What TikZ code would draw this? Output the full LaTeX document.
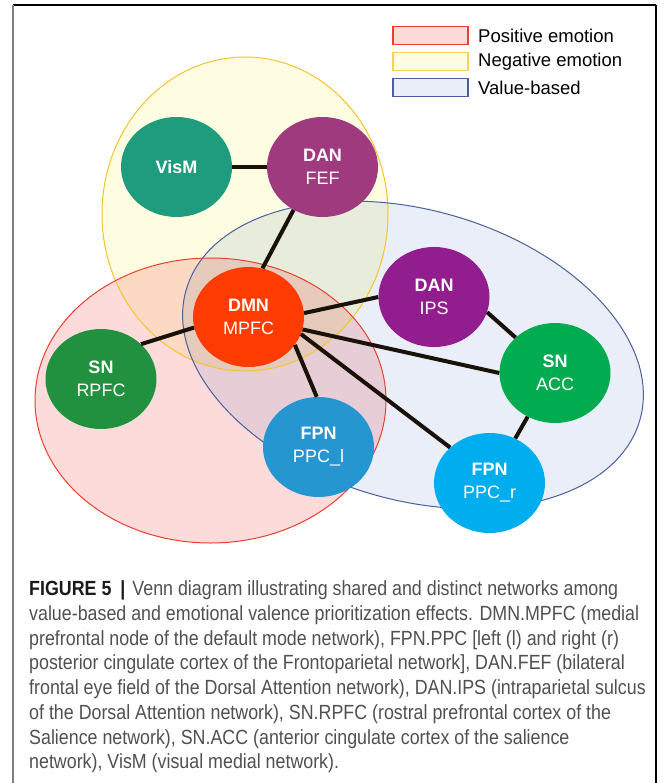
\documentclass[tikz,border=0pt]{standalone}
\usepackage{fontspec}
\setmainfont{Liberation Sans}
\newfontfamily\capfont[FakeStretch=0.87]{Liberation Sans}
\usetikzlibrary{shapes.geometric}
\definecolor{Rfill}{RGB}{253,219,219}
\definecolor{Yfill}{RGB}{254,253,226}
\definecolor{Bfill}{RGB}{233,238,248}
\definecolor{RYfill}{RGB}{252,217,194}
\definecolor{RBfill}{RGB}{231,205,213}
\definecolor{YBfill}{RGB}{232,237,219}
\definecolor{RYBfill}{RGB}{230,203,189}
\definecolor{Rline}{HTML}{EC3F2C}
\definecolor{Yline}{HTML}{F6C42C}
\definecolor{Bline}{HTML}{4A5F9E}
\definecolor{linkc}{HTML}{1A1209}
\definecolor{cVisM}{HTML}{1F9B7D}
\definecolor{cFEF}{HTML}{A03A7F}
\definecolor{cDMN}{HTML}{FE3B00}
\definecolor{cRPFC}{HTML}{22913F}
\definecolor{cPPCl}{HTML}{2596D0}
\definecolor{cIPS}{HTML}{921D8E}
\definecolor{cACC}{HTML}{00AC4F}
\definecolor{cPPCr}{HTML}{00AEEF}
\definecolor{capgray}{HTML}{505050}
\definecolor{capdark}{HTML}{1A1A1A}
\begin{document}
\begin{tikzpicture}[x=1pt,y=-1pt,
  net/.style={ellipse, minimum width=111pt, minimum height=100pt, inner sep=0pt,
    text=white, align=center, font=\fontsize{18}{23}\selectfont},
  link/.style={line width=4pt, draw=linkc},
  region/.style={line width=1pt},
  legbox/.style={line width=1.4pt, minimum width=75pt, minimum height=18pt, inner sep=0pt},
  legtext/.style={anchor=west, inner sep=0pt, font=\fontsize{18.5}{22}\selectfont, text=black},
  capline/.style={anchor=base west, inner sep=0pt, text=capgray, font=\capfont\fontsize{20.5}{24}\selectfont}]
\useasboundingbox (0,0) rectangle (667,783);
% frame
\draw[line width=1.5pt, black] (13,5) -- (656,5);
\draw[line width=2pt, black!50] (13,5) -- (13,783);
\draw[line width=1.2pt, black] (656,5) -- (656,783);
% region fills
\fill[Rfill] (210.5,400.5) ellipse [x radius=175.5pt, y radius=142.5pt];
\fill[Yfill] (245,214) ellipse [x radius=143pt, y radius=157pt];
\fill[Bfill, rotate around={-16:(413,355)}] (413,355) ellipse [x radius=236pt, y radius=145pt];
\begin{scope}
  \clip (210.5,400.5) ellipse [x radius=175.5pt, y radius=142.5pt];
  \fill[RYfill] (245,214) ellipse [x radius=143pt, y radius=157pt];
\end{scope}
\begin{scope}
  \clip (210.5,400.5) ellipse [x radius=175.5pt, y radius=142.5pt];
  \fill[RBfill, rotate around={-16:(413,355)}] (413,355) ellipse [x radius=236pt, y radius=145pt];
\end{scope}
\begin{scope}
  \clip (245,214) ellipse [x radius=143pt, y radius=157pt];
  \fill[YBfill, rotate around={-16:(413,355)}] (413,355) ellipse [x radius=236pt, y radius=145pt];
\end{scope}
\begin{scope}
  \clip (210.5,400.5) ellipse [x radius=175.5pt, y radius=142.5pt];
  \clip (245,214) ellipse [x radius=143pt, y radius=157pt];
  \fill[RYBfill, rotate around={-16:(413,355)}] (413,355) ellipse [x radius=236pt, y radius=145pt];
\end{scope}
% region outlines
\draw[region, Yline] (245,214) ellipse [x radius=143pt, y radius=157pt];
\draw[region, Rline] (210.5,400.5) ellipse [x radius=175.5pt, y radius=142.5pt];
\draw[region, Bline, rotate around={-16:(413,355)}] (413,355) ellipse [x radius=236pt, y radius=145pt];
% legend
\node[legbox, draw=Rline, fill=Rfill] (lr) at (430.5,35.5) {};
\node[legbox, draw=Yline!80, fill=Yfill] (ly) at (430.5,61.5) {};
\node[legbox, draw=Bline, fill=Bfill] (lb) at (430.5,87.5) {};
\node[legtext] (tr) at (478,35.7) {Positive emotion};
\node[legtext] (ty) at (478,61.7) {Negative emotion};
\node[legtext] (tb) at (478,87.7) {Value-based};
% network nodes
\node[net, fill=cVisM] (vism) at (176.5,167) {\textbf{VisM}};
\node[net, fill=cFEF] (fef) at (322.5,167) {\textbf{DAN}\\FEF};
\node[net, fill=cDMN] (dmn) at (248.5,317) {\textbf{DMN}\\MPFC};
\node[net, fill=cRPFC] (rpfc) at (101,379) {\textbf{SN}\\RPFC};
\node[net, fill=cPPCl] (ppcl) at (318.5,447) {\textbf{FPN}\\PPC\_l};
\node[net, fill=cIPS] (ips) at (434,297) {\textbf{DAN}\\IPS};
\node[net, fill=cACC] (acc) at (555,373) {\textbf{SN}\\ACC};
\node[net, fill=cPPCr] (ppcr) at (489.5,483) {\textbf{FPN}\\PPC\_r};
% links
\draw[link] (vism) -- (fef);
\draw[link] (fef.236) -- (dmn.74);
\draw[link] (dmn.191) -- (rpfc.41);
\draw[link] (dmn.4) -- (ips.west);
\draw[link] (dmn.-13) -- (acc.west);
\draw[link] (dmn.-18) -- (ppcr.138);
\draw[link] (dmn.-31) -- (ppcl.92);
\draw[link] (ips.-16) -- (acc.138);
\draw[link] (acc.238) -- (ppcr.60);
% caption
\node[capline] (c1) at (29,595) {{\color{capdark}\bfseries FIGURE 5\hspace{9pt}|}\hspace{7pt}Venn diagram illustrating shared and distinct networks among};
\node[capline] (c2) at (29,620) {value-based and emotional valence prioritization effects. DMN.MPFC (medial};
\node[capline] (c3) at (29,645) {prefrontal node of the default mode network), FPN.PPC [left (l) and right (r)};
\node[capline] (c4) at (29,669) {posterior cingulate cortex of the Frontoparietal network], DAN.FEF (bilateral};
\node[capline] (c5) at (29,694) {frontal eye field of the Dorsal Attention network), DAN.IPS (intraparietal sulcus};
\node[capline] (c6) at (29,719) {of the Dorsal Attention network), SN.RPFC (rostral prefrontal cortex of the};
\node[capline] (c7) at (29,744) {Salience network), SN.ACC (anterior cingulate cortex of the salience};
\node[capline] (c8) at (29,768) {network), VisM (visual medial network).};
\end{tikzpicture}
\end{document}
